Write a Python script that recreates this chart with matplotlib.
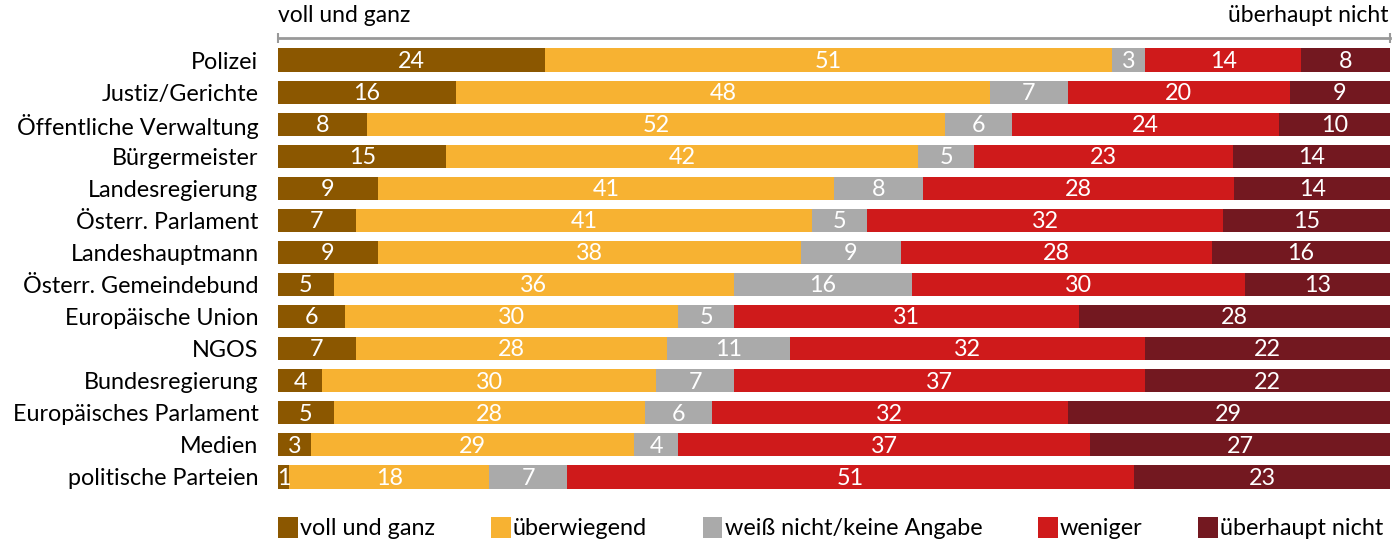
import matplotlib
matplotlib.use("Agg")
import matplotlib.pyplot as plt
from matplotlib.patches import Patch
import numpy as np

plt.rcParams['font.family'] = ['Lato', 'DejaVu Sans']

categories = ["Polizei", "Justiz/Gerichte", "Öffentliche Verwaltung", "Bürgermeister",
              "Landesregierung", "Österr. Parlament", "Landeshauptmann",
              "Österr. Gemeindebund", "Europäische Union", "NGOS", "Bundesregierung",
              "Europäisches Parlament", "Medien", "politische Parteien"]
series_names = ["voll und ganz", "überwiegend", "weiß nicht/keine Angabe", "weniger", "überhaupt nicht"]
voll = [24, 16, 8, 15, 9, 7, 9, 5, 6, 7, 4, 5, 3, 1]
ueberwiegend = [51, 48, 52, 42, 41, 41, 38, 36, 30, 28, 30, 28, 29, 18]
weiss_nicht = [3, 7, 6, 5, 8, 5, 9, 16, 5, 11, 7, 6, 4, 7]
weniger = [14, 20, 24, 23, 28, 32, 28, 30, 31, 32, 37, 32, 37, 51]
ueberhaupt = [8, 9, 10, 14, 14, 15, 16, 13, 28, 22, 22, 29, 27, 23]
colors = ["#8B5700", "#F7B232", "#AAAAAA", "#CF1A1B", "#731820"]

data = np.array([voll, ueberwiegend, weiss_nicht, weniger, ueberhaupt], dtype=float)
totals = data.sum(axis=0)
shares = data / totals * 100

W, H = 1392, 543
fig = plt.figure(figsize=(W / 100, H / 100), dpi=100)
ax = fig.add_axes([278 / W, 1 - 493 / H, (1390 - 278) / W, (493 - 44) / H])

y = np.arange(len(categories))
left = np.zeros(len(categories))
for i, (name, col) in enumerate(zip(series_names, colors)):
    ax.barh(y, shares[i], left=left, height=0.72, color=col, edgecolor='none', label=name)
    for j in range(len(categories)):
        ax.text(left[j] + shares[i][j] / 2, y[j] + 0.04, f"{int(data[i][j])}",
                ha='center', va='center', color='white', fontsize=16.8)
    left += shares[i]

ax.set_xlim(0, 100)
ax.set_ylim(len(categories) - 0.5, -0.5)
ax.set_yticks(y)
ax.set_yticklabels(categories, fontsize=16.8)
ax.tick_params(axis='y', length=0, pad=14)

for s in ['left', 'right', 'bottom']:
    ax.spines[s].set_visible(False)
ax.spines['top'].set_position(('outward', 4.3))
ax.spines['top'].set_color('#999999')
ax.spines['top'].set_linewidth(2)
ax.xaxis.set_ticks_position('top')
ax.set_xticks([0, 100])
ax.set_xticklabels([])
ax.tick_params(axis='x', direction='inout', length=7, width=1.5, color='#999999')

ax.text(0, 1.04, "voll und ganz", transform=ax.transAxes, ha='left', va='bottom', fontsize=16.5)
ax.text(0.999, 1.04, "überhaupt nicht", transform=ax.transAxes, ha='right', va='bottom', fontsize=16.5)

handles = [Patch(facecolor=c, edgecolor='none', label=n) for n, c in zip(series_names, colors)]
fig.legend(handles=handles, loc='center left', bbox_to_anchor=(278 / W, 1 - 528 / H),
           ncol=5, frameon=False, fontsize=16.8, handlelength=0.85, handleheight=1.0,
           handletextpad=0.1, columnspacing=2.38, borderaxespad=0, borderpad=0)

fig.savefig("out.png", dpi=100)
